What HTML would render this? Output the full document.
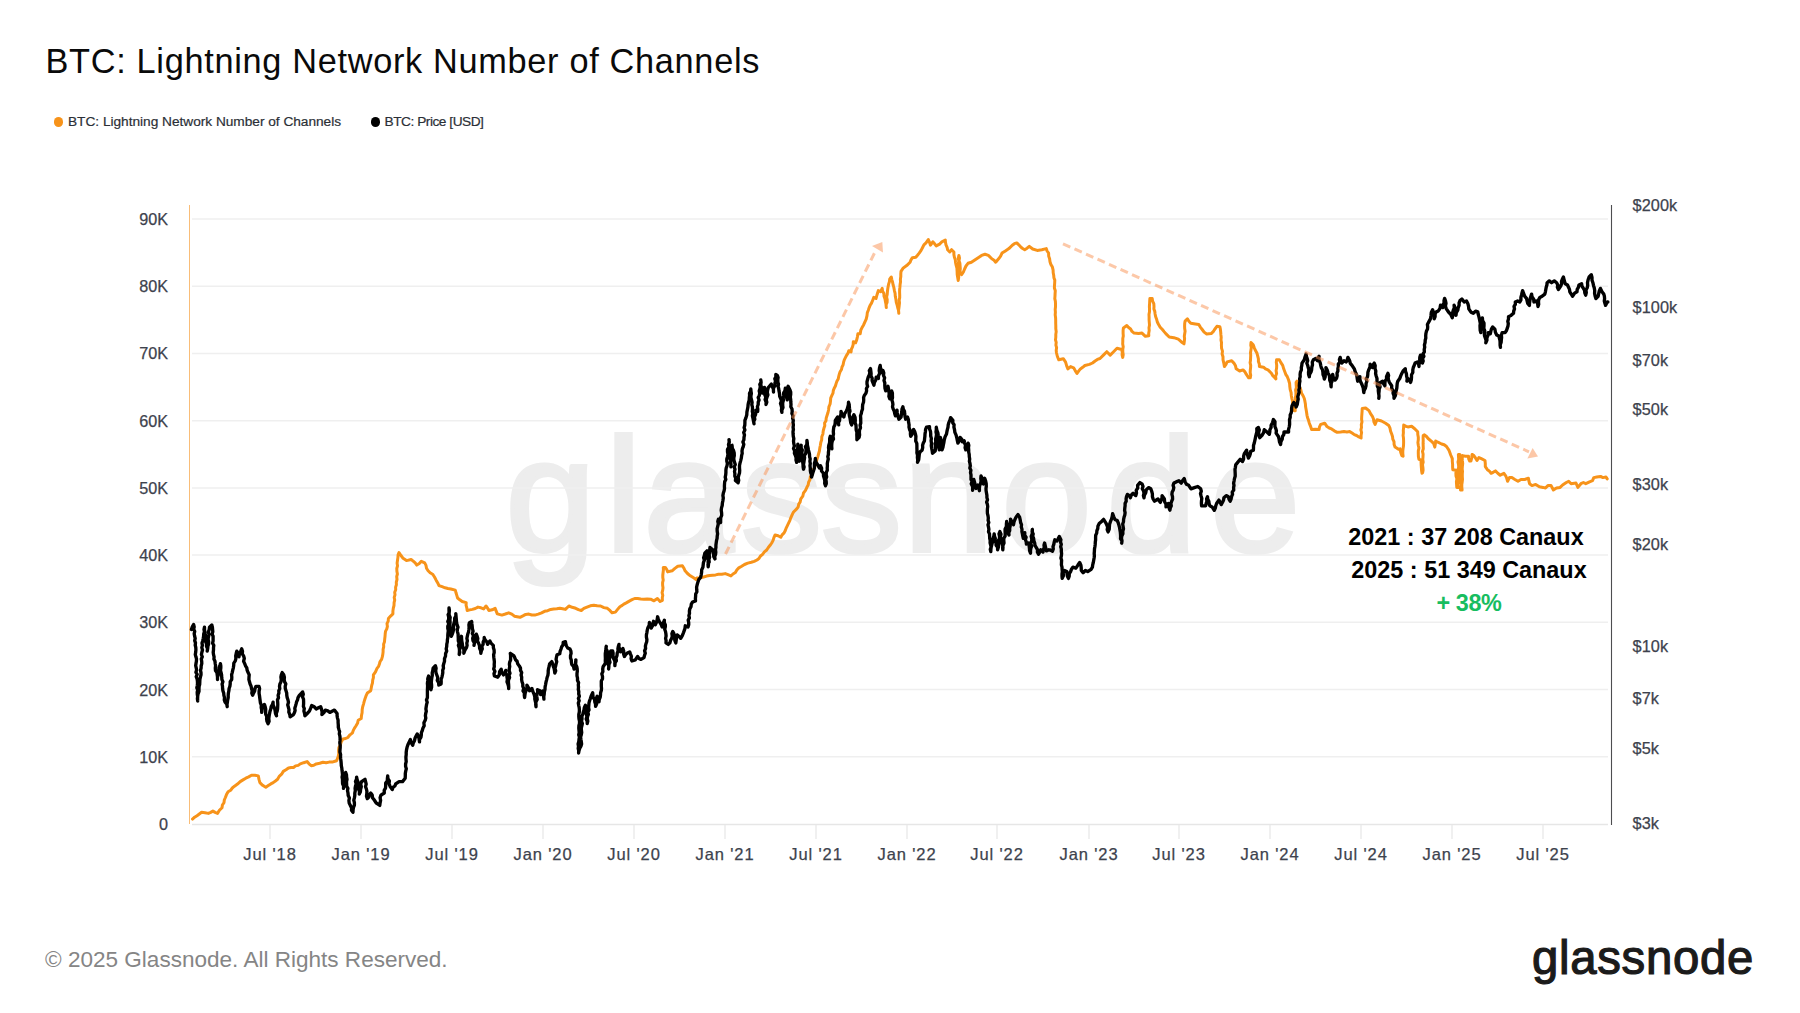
<!DOCTYPE html>
<html lang="en"><head><meta charset="utf-8"><title>BTC: Lightning Network Number of Channels</title>
<style>
html,body{margin:0;padding:0;background:#fff;}
body{width:1800px;height:1013px;position:relative;overflow:hidden;font-family:"Liberation Sans",sans-serif;}
.abs{position:absolute;white-space:nowrap;line-height:1;}
.chart{position:absolute;left:0;top:0;}
.title{left:45.5px;top:44px;font-size:34.3px;letter-spacing:0.69px;color:#0a0a0a;}
.leg{font-size:13.7px;color:#2b2f36;top:114.5px;-webkit-text-stroke:0.2px #2b2f36;}
.dot{position:absolute;width:9.6px;height:9.6px;border-radius:50%;top:117px;}
.yl{font-size:16.2px;-webkit-text-stroke:0.25px #3d424d;color:#3d424d;text-align:right;width:60px;left:108px;}
.yr{font-size:16.3px;letter-spacing:0.1px;-webkit-text-stroke:0.25px #3d424d;color:#3d424d;left:1632.5px;}
.xl{font-size:16.5px;letter-spacing:0.9px;-webkit-text-stroke:0.25px #3d424d;color:#3d424d;width:100px;text-align:center;top:846px;}
.ann{font-weight:bold;font-size:23.4px;color:#000;text-align:center;width:300px;}
.foot{left:45px;top:949px;font-size:22.55px;color:#858585;}
.logo{font-size:47.3px;letter-spacing:0.7px;color:#1b1b1b;left:1532px;top:934px;-webkit-text-stroke:1.2px #1b1b1b;}
.wm{font-family:"Liberation Sans",sans-serif;font-size:162px;fill:#ededed;stroke:#ededed;stroke-width:4px;}
</style></head><body>

<svg class="chart" width="1800" height="1013" viewBox="0 0 1800 1013">
<text class="wm" x="505.5 605.5 643.5 741.0 821.0 903.5 1001.5 1106.5 1210.0" y="550.5">glassnode</text>
<line x1="192" x2="1608" y1="219.0" y2="219.0" stroke="#efefef" stroke-width="1.5"/>
<line x1="192" x2="1608" y1="286.2" y2="286.2" stroke="#efefef" stroke-width="1.5"/>
<line x1="192" x2="1608" y1="353.4" y2="353.4" stroke="#efefef" stroke-width="1.5"/>
<line x1="192" x2="1608" y1="420.7" y2="420.7" stroke="#efefef" stroke-width="1.5"/>
<line x1="192" x2="1608" y1="487.9" y2="487.9" stroke="#efefef" stroke-width="1.5"/>
<line x1="192" x2="1608" y1="555.1" y2="555.1" stroke="#efefef" stroke-width="1.5"/>
<line x1="192" x2="1608" y1="622.3" y2="622.3" stroke="#efefef" stroke-width="1.5"/>
<line x1="192" x2="1608" y1="689.6" y2="689.6" stroke="#efefef" stroke-width="1.5"/>
<line x1="192" x2="1608" y1="756.8" y2="756.8" stroke="#efefef" stroke-width="1.5"/>
<line x1="192" x2="1608" y1="824.5" y2="824.5" stroke="#e6e6e6" stroke-width="1.5"/>
<line x1="270" x2="270" y1="825" y2="839" stroke="#e8e8e8" stroke-width="1.3"/>
<line x1="361" x2="361" y1="825" y2="839" stroke="#e8e8e8" stroke-width="1.3"/>
<line x1="452" x2="452" y1="825" y2="839" stroke="#e8e8e8" stroke-width="1.3"/>
<line x1="543" x2="543" y1="825" y2="839" stroke="#e8e8e8" stroke-width="1.3"/>
<line x1="634" x2="634" y1="825" y2="839" stroke="#e8e8e8" stroke-width="1.3"/>
<line x1="725" x2="725" y1="825" y2="839" stroke="#e8e8e8" stroke-width="1.3"/>
<line x1="816" x2="816" y1="825" y2="839" stroke="#e8e8e8" stroke-width="1.3"/>
<line x1="907" x2="907" y1="825" y2="839" stroke="#e8e8e8" stroke-width="1.3"/>
<line x1="997" x2="997" y1="825" y2="839" stroke="#e8e8e8" stroke-width="1.3"/>
<line x1="1089" x2="1089" y1="825" y2="839" stroke="#e8e8e8" stroke-width="1.3"/>
<line x1="1179" x2="1179" y1="825" y2="839" stroke="#e8e8e8" stroke-width="1.3"/>
<line x1="1270" x2="1270" y1="825" y2="839" stroke="#e8e8e8" stroke-width="1.3"/>
<line x1="1361" x2="1361" y1="825" y2="839" stroke="#e8e8e8" stroke-width="1.3"/>
<line x1="1452" x2="1452" y1="825" y2="839" stroke="#e8e8e8" stroke-width="1.3"/>
<line x1="1543" x2="1543" y1="825" y2="839" stroke="#e8e8e8" stroke-width="1.3"/>
<line x1="189.5" x2="189.5" y1="205" y2="824" stroke="#f9bd78" stroke-width="1"/>
<line x1="1611.5" x2="1611.5" y1="205" y2="825" stroke="#4d4d50" stroke-width="1.1"/>
<path d="M192.5,819.1 L194.6,817.2 L197.0,815.7 L199.3,814.0 L201.6,812.3 L205.0,812.7 L208.4,813.4 L210.7,812.4 L212.9,811.1 L215.1,812.4 L217.5,813.4 L219.4,810.3 L222.0,807.7 L222.4,805.0 L224.0,802.7 L224.3,800.0 L225.4,797.5 L226.5,794.6 L228.1,791.8 L230.6,790.3 L232.3,788.0 L234.5,786.2 L237.5,784.1 L240.2,781.6 L243.0,779.9 L245.8,778.2 L248.7,776.9 L251.5,775.3 L254.9,775.2 L258.3,775.9 L259.0,779.4 L259.9,782.7 L262.6,785.3 L265.8,787.3 L268.3,785.6 L270.8,783.9 L273.2,782.6 L275.4,781.0 L277.6,779.3 L279.2,776.4 L281.6,774.2 L283.3,771.4 L286.0,769.8 L288.5,768.0 L291.0,767.6 L293.5,767.5 L295.6,765.9 L298.2,765.4 L300.3,763.9 L303.7,762.7 L307.1,761.6 L309.0,763.8 L311.2,765.7 L313.8,765.2 L316.2,763.9 L319.7,763.3 L323.0,762.3 L326.1,762.7 L329.1,762.1 L332.1,762.1 L336.6,760.7 L338.2,756.6 L338.8,753.6 L338.6,750.6 L338.9,747.6 L340.4,744.9 L341.2,741.9 L343.0,738.9 L345.6,738.5 L348.0,737.3 L350.0,734.8 L352.5,732.8 L353.3,730.4 L354.5,728.1 L355.9,726.0 L357.5,723.3 L358.2,720.3 L361.2,718.5 L361.5,715.5 L362.1,712.6 L362.2,709.6 L362.7,706.7 L363.5,704.1 L364.2,701.4 L365.0,698.8 L366.0,695.9 L367.3,693.1 L370.7,690.8 L371.2,688.2 L371.7,685.5 L372.5,682.9 L372.7,680.2 L373.4,677.6 L373.4,674.9 L375.5,671.8 L377.0,668.4 L378.6,666.4 L379.4,664.0 L380.1,661.5 L381.6,659.3 L382.3,656.9 L382.8,654.4 L383.1,651.8 L383.1,649.3 L383.7,646.8 L383.6,644.2 L384.5,641.7 L384.7,639.2 L385.0,636.6 L385.2,634.0 L385.5,631.4 L386.8,628.9 L387.4,626.4 L387.0,623.6 L388.2,621.1 L388.4,618.5 L390.6,616.1 L392.9,613.9 L392.9,611.1 L393.3,608.2 L394.0,605.5 L394.1,602.6 L394.7,600.1 L394.2,597.4 L395.0,594.9 L394.7,592.3 L395.7,589.8 L395.6,587.2 L396.4,584.8 L396.3,582.2 L397.0,579.5 L396.7,576.7 L397.4,574.0 L396.9,571.2 L396.8,568.5 L397.5,565.8 L397.1,563.1 L397.5,560.3 L397.9,557.6 L398.1,554.9 L399.0,552.6 L401.0,555.5 L403.1,558.3 L406.5,560.6 L411.1,559.5 L413.2,561.1 L415.2,562.9 L416.8,565.1 L419.3,563.5 L421.3,561.3 L424.7,562.9 L426.0,565.4 L426.5,568.3 L428.1,570.8 L430.1,572.8 L432.6,574.2 L434.5,577.0 L436.0,579.9 L437.6,582.7 L439.0,585.6 L442.1,586.7 L445.1,587.8 L447.9,588.5 L450.8,589.0 L455.3,590.1 L456.0,592.8 L456.8,595.4 L457.6,598.0 L459.8,599.8 L462.2,601.5 L466.2,602.6 L466.1,605.3 L466.8,607.9 L467.2,610.5 L469.7,609.9 L472.4,609.4 L475.3,608.5 L478.0,607.1 L481.0,607.8 L483.7,608.9 L486.0,606.0 L487.6,608.2 L488.9,610.5 L492.2,609.8 L495.1,608.3 L496.2,611.1 L497.3,613.9 L501.9,615.1 L505.3,614.0 L508.7,612.8 L511.8,614.1 L514.4,616.2 L517.2,616.7 L520.0,617.3 L522.9,615.9 L525.7,614.4 L528.8,614.1 L531.8,615.0 L534.8,615.1 L538.2,614.1 L541.6,612.8 L544.5,611.3 L547.7,610.7 L550.7,609.4 L553.7,609.0 L556.8,608.8 L559.8,608.3 L562.6,608.7 L565.4,609.4 L568.9,606.0 L572.2,607.3 L575.7,608.3 L578.4,609.6 L581.3,610.5 L583.9,608.4 L587.0,607.1 L590.3,605.8 L593.8,605.3 L597.2,605.8 L600.6,606.0 L603.9,607.6 L607.4,608.3 L609.9,610.4 L612.0,612.8 L615.4,612.1 L617.6,609.4 L619.9,606.7 L622.2,605.4 L624.4,603.8 L626.7,602.6 L629.3,601.1 L632.0,599.7 L634.7,598.5 L637.7,598.6 L640.7,599.1 L643.8,599.2 L647.2,599.0 L650.6,599.2 L654.0,600.8 L657.4,598.5 L660.1,601.5 L662.4,600.3 L662.3,597.8 L662.8,595.3 L662.1,592.7 L662.7,590.2 L663.0,587.7 L662.6,585.1 L662.6,582.6 L663.2,580.1 L662.8,577.5 L662.8,575.0 L663.1,572.5 L663.4,569.9 L663.3,567.4 L665.3,567.4 L666.8,569.5 L667.6,571.9 L672.1,570.8 L674.9,568.4 L677.8,566.3 L682.4,565.8 L683.9,568.2 L685.1,570.8 L687.5,573.5 L690.3,575.8 L693.2,577.6 L696.0,579.4 L696.8,578.1 L700.3,577.9 L703.6,577.0 L706.6,576.1 L709.6,575.6 L712.7,575.2 L715.6,574.9 L718.4,574.3 L721.8,574.3 L725.2,573.6 L728.0,574.7 L730.9,575.9 L733.0,574.0 L735.4,572.5 L736.8,570.0 L738.8,567.9 L741.7,566.3 L744.5,564.5 L747.8,563.1 L751.3,562.3 L754.2,561.4 L757.0,560.0 L759.1,558.3 L760.5,556.0 L762.6,554.3 L764.4,551.9 L766.7,550.0 L768.3,547.5 L770.1,545.3 L771.7,543.0 L773.1,540.4 L773.9,537.6 L775.1,535.0 L778.1,535.8 L780.8,537.3 L782.1,534.9 L784.1,532.9 L785.3,530.5 L786.3,527.8 L787.5,525.3 L788.7,522.8 L789.9,520.3 L790.9,517.6 L792.1,514.9 L793.3,512.3 L796.7,508.9 L798.2,506.8 L798.7,504.2 L800.1,502.1 L800.8,498.9 L802.8,496.2 L803.5,493.0 L805.5,490.4 L806.9,487.3 L808.2,484.9 L808.6,482.2 L809.9,479.8 L810.3,477.1 L811.8,474.6 L812.3,471.7 L813.7,469.2 L814.9,466.2 L816.0,463.2 L816.7,460.1 L817.7,457.1 L818.5,454.1 L819.4,451.0 L819.8,448.1 L820.4,445.3 L820.8,442.5 L821.7,439.7 L821.8,436.7 L822.9,434.0 L823.2,431.1 L823.9,428.3 L824.8,425.8 L824.6,423.1 L826.0,420.7 L826.2,418.1 L827.1,415.3 L828.0,412.5 L828.6,409.7 L828.9,406.8 L830.1,404.0 L830.5,401.1 L830.7,398.1 L831.9,395.4 L833.0,393.1 L833.3,390.6 L834.2,388.2 L835.4,386.0 L836.1,383.6 L836.9,381.2 L838.2,379.0 L838.7,376.5 L839.3,374.1 L840.1,371.7 L841.5,369.5 L842.0,367.0 L843.1,364.8 L843.6,362.2 L844.3,359.8 L845.4,357.6 L846.6,355.3 L848.0,353.2 L848.8,350.7 L851.1,351.9 L851.3,349.3 L852.5,346.8 L853.2,344.3 L853.3,341.7 L855.6,342.8 L856.7,339.9 L857.4,336.8 L857.9,333.7 L860.2,333.7 L860.8,330.2 L862.4,326.9 L863.7,324.7 L864.7,322.4 L866.2,319.1 L867.0,315.6 L867.3,312.8 L868.3,310.2 L869.2,307.6 L870.2,305.2 L871.5,303.1 L872.7,300.2 L873.8,297.4 L876.0,298.5 L876.7,295.9 L877.5,293.2 L878.3,290.6 L880.6,291.7 L882.2,288.3 L882.5,291.0 L883.9,293.5 L884.0,296.3 L885.0,299.0 L885.5,301.9 L886.1,304.7 L886.3,307.6 L886.0,304.9 L887.1,302.4 L887.2,299.7 L886.6,297.0 L887.2,294.4 L887.4,291.7 L887.7,289.2 L888.1,286.7 L888.6,284.2 L889.4,281.8 L889.7,279.2 L891.3,277.0 L891.8,279.6 L892.6,282.2 L893.1,284.9 L893.9,287.7 L894.4,290.6 L895.1,293.4 L895.3,296.3 L895.9,299.3 L896.3,302.4 L897.2,305.3 L897.8,308.0 L898.6,310.6 L898.8,313.3 L898.5,310.7 L898.9,308.1 L899.2,305.5 L899.5,302.9 L899.2,300.2 L899.7,297.6 L899.7,295.0 L899.6,292.4 L899.6,289.8 L899.9,287.2 L900.1,284.5 L900.5,281.9 L900.4,279.2 L900.8,276.6 L900.8,273.9 L901.0,271.3 L903.3,267.9 L906.7,265.6 L910.1,262.2 L911.0,259.8 L912.4,257.7 L915.8,257.2 L917.5,255.2 L919.2,253.1 L921.1,250.4 L922.6,247.5 L923.9,244.9 L926.0,242.9 L928.3,239.5 L929.5,242.3 L930.5,245.2 L932.8,241.8 L934.6,243.8 L936.2,245.9 L939.6,244.1 L941.9,241.8 L945.3,240.0 L945.5,242.5 L946.0,244.9 L947.1,247.3 L947.6,249.7 L949.8,252.0 L951.6,249.7 L953.9,252.0 L953.9,254.6 L954.4,257.2 L955.3,259.6 L955.5,262.2 L956.1,265.2 L956.9,268.2 L957.1,271.3 L957.2,274.4 L957.7,277.4 L958.2,280.4 L958.7,277.6 L958.7,274.8 L958.6,272.1 L958.8,269.3 L958.7,266.5 L958.3,263.7 L958.8,261.0 L958.3,258.2 L958.9,255.4 L959.5,258.0 L959.0,260.7 L959.9,263.3 L960.1,266.0 L960.3,268.6 L960.0,271.3 L961.6,274.7 L963.4,272.0 L964.6,269.0 L966.0,266.0 L968.0,263.3 L971.4,262.2 L974.8,259.9 L978.2,257.7 L981.6,255.4 L985.0,254.3 L988.4,255.4 L991.8,258.8 L994.1,260.2 L995.7,262.2 L998.6,258.8 L1000.6,256.1 L1002.0,253.1 L1005.4,250.9 L1008.9,248.6 L1012.3,245.2 L1014.4,243.7 L1016.8,242.9 L1020.2,246.3 L1022.3,248.3 L1024.7,249.7 L1027.1,248.2 L1029.3,246.3 L1032.7,249.0 L1037.2,250.4 L1041.8,249.7 L1046.3,248.6 L1047.1,251.0 L1048.6,253.1 L1048.7,256.1 L1049.6,258.8 L1050.0,261.7 L1050.9,264.5 L1052.4,267.1 L1053.1,270.2 L1053.2,272.7 L1053.7,275.2 L1053.9,277.7 L1054.8,280.1 L1054.7,282.6 L1054.5,285.3 L1054.4,288.0 L1055.3,290.7 L1055.1,293.4 L1055.0,296.1 L1054.8,298.7 L1055.4,301.4 L1055.5,304.1 L1055.5,306.8 L1055.2,309.5 L1055.4,312.2 L1055.2,314.9 L1055.6,317.7 L1055.7,320.5 L1055.7,323.3 L1055.8,326.0 L1055.8,328.8 L1056.2,331.6 L1055.8,334.4 L1055.8,337.1 L1055.5,339.8 L1056.2,342.4 L1055.9,345.1 L1056.6,347.7 L1056.2,350.4 L1056.5,353.0 L1057.4,356.5 L1058.8,359.8 L1063.3,358.7 L1065.6,362.1 L1066.6,365.6 L1067.9,368.9 L1070.6,366.6 L1073.6,367.8 L1075.2,370.6 L1077.0,373.5 L1078.6,371.2 L1080.4,368.9 L1082.7,367.3 L1084.9,365.5 L1089.4,364.4 L1092.5,363.0 L1095.1,361.0 L1097.4,359.4 L1100.0,358.5 L1103.4,355.1 L1106.8,351.7 L1110.2,355.1 L1113.6,351.7 L1117.0,348.3 L1121.6,349.5 L1122.3,352.0 L1122.1,354.8 L1122.7,357.4 L1123.2,354.7 L1122.8,352.0 L1122.8,349.4 L1123.2,346.7 L1122.7,344.0 L1122.8,341.3 L1122.8,338.6 L1123.3,335.9 L1123.1,333.3 L1123.1,330.6 L1123.4,327.9 L1126.8,325.6 L1128.6,327.5 L1130.6,329.0 L1132.0,331.4 L1134.1,333.1 L1138.6,333.6 L1142.0,333.1 L1145.4,336.3 L1148.8,335.8 L1148.7,333.2 L1149.2,330.5 L1149.0,327.8 L1149.5,325.1 L1149.3,322.5 L1149.1,319.8 L1149.1,317.1 L1149.0,314.4 L1149.5,311.8 L1149.5,309.1 L1149.4,306.4 L1149.6,303.7 L1149.7,301.0 L1149.9,298.4 L1152.2,298.4 L1152.6,301.1 L1153.8,303.6 L1154.0,306.3 L1153.9,309.0 L1154.8,311.4 L1155.1,314.0 L1155.6,316.5 L1156.6,319.2 L1157.3,322.0 L1158.6,324.5 L1160.2,327.2 L1162.4,329.5 L1164.1,331.6 L1165.8,333.6 L1169.2,337.0 L1173.8,337.7 L1178.3,339.2 L1180.3,340.9 L1182.2,342.6 L1184.0,343.8 L1184.3,341.3 L1184.6,338.8 L1184.3,336.2 L1184.7,333.7 L1185.1,331.2 L1184.7,328.6 L1184.6,326.1 L1184.7,323.6 L1185.1,321.1 L1187.4,318.8 L1188.9,321.2 L1190.8,323.3 L1195.3,324.0 L1198.8,324.5 L1200.3,327.1 L1202.2,329.5 L1204.1,332.1 L1206.7,334.0 L1211.2,333.6 L1213.2,331.7 L1214.6,329.5 L1216.9,326.3 L1219.9,326.8 L1220.4,329.4 L1220.7,332.0 L1220.9,334.7 L1221.2,337.3 L1221.0,340.0 L1221.5,342.6 L1221.4,345.5 L1221.6,348.4 L1222.5,351.1 L1222.1,354.0 L1223.0,356.8 L1223.0,359.7 L1223.8,363.1 L1224.4,366.5 L1226.0,364.3 L1227.1,361.9 L1231.7,360.8 L1233.9,363.1 L1235.5,365.8 L1236.2,368.8 L1239.6,371.0 L1243.0,369.9 L1245.0,371.9 L1246.4,374.4 L1248.7,377.8 L1250.3,377.8 L1250.7,375.3 L1250.2,372.8 L1250.3,370.3 L1250.6,367.8 L1250.7,365.3 L1250.1,362.7 L1250.5,360.2 L1250.6,357.7 L1250.7,355.2 L1250.5,352.7 L1250.9,350.2 L1251.3,347.7 L1250.8,345.2 L1251.0,342.6 L1253.2,344.9 L1254.3,347.8 L1255.5,350.6 L1257.0,353.3 L1257.8,356.3 L1258.4,358.8 L1258.4,361.4 L1259.3,363.9 L1259.4,366.5 L1263.5,367.2 L1265.5,368.9 L1268.0,369.9 L1271.4,373.3 L1272.8,375.8 L1274.8,377.8 L1275.9,379.0 L1275.6,376.2 L1276.6,373.5 L1276.1,370.7 L1276.6,368.0 L1276.7,365.2 L1276.3,362.4 L1276.6,359.7 L1279.3,359.7 L1280.9,362.6 L1282.7,365.3 L1283.7,368.8 L1285.0,372.2 L1285.9,374.6 L1287.3,376.7 L1288.6,380.0 L1289.6,383.5 L1289.8,386.6 L1290.2,389.6 L1291.1,392.6 L1291.3,395.4 L1291.8,398.3 L1292.6,401.1 L1292.5,403.9 L1293.3,407.3 L1294.1,410.7 L1295.2,410.7 L1295.2,408.2 L1295.6,405.6 L1295.7,403.0 L1295.6,400.4 L1295.3,397.8 L1295.9,395.3 L1295.9,392.7 L1295.6,390.1 L1296.4,387.5 L1296.2,385.0 L1296.1,382.4 L1297.0,381.2 L1298.6,385.8 L1300.1,387.9 L1300.9,390.3 L1301.6,393.3 L1303.2,396.0 L1304.3,398.5 L1304.9,401.2 L1305.4,403.9 L1305.6,406.8 L1306.1,409.6 L1306.6,412.5 L1307.0,415.3 L1307.7,418.0 L1308.6,420.6 L1309.3,423.2 L1310.6,426.4 L1311.6,429.6 L1315.3,429.3 L1319.1,429.6 L1319.5,426.9 L1320.7,424.4 L1324.7,423.2 L1327.0,426.6 L1329.2,428.0 L1331.6,428.9 L1334.3,430.8 L1337.2,432.3 L1340.6,432.0 L1344.0,431.6 L1346.9,431.9 L1349.7,431.6 L1352.1,433.0 L1354.3,434.6 L1356.6,435.5 L1358.8,436.9 L1361.1,438.0 L1361.1,435.3 L1361.6,432.6 L1360.9,429.9 L1361.5,427.3 L1361.3,424.6 L1362.0,421.9 L1361.6,419.2 L1361.7,416.5 L1361.9,413.8 L1362.1,411.2 L1362.2,408.5 L1365.6,408.0 L1369.0,410.7 L1370.5,413.7 L1372.4,416.4 L1373.5,419.0 L1373.9,421.8 L1375.1,424.4 L1377.0,419.8 L1381.5,421.0 L1385.6,423.2 L1388.8,425.5 L1390.0,428.2 L1390.6,431.2 L1391.6,433.8 L1392.5,436.4 L1392.8,439.1 L1394.0,441.7 L1394.1,444.5 L1395.1,447.1 L1398.5,449.3 L1400.0,448.9 L1400.7,452.3 L1401.8,455.6 L1403.1,456.2 L1402.8,453.6 L1402.8,451.0 L1403.1,448.4 L1403.5,445.8 L1403.6,443.3 L1403.6,440.7 L1403.5,438.1 L1403.1,435.4 L1403.4,432.9 L1403.3,430.3 L1403.6,427.7 L1403.7,425.1 L1406.1,426.3 L1407.9,426.9 L1411.6,426.3 L1414.7,428.7 L1417.7,431.8 L1417.8,434.5 L1418.3,437.2 L1418.3,439.8 L1417.9,442.6 L1418.3,445.2 L1418.9,448.0 L1418.3,450.9 L1418.3,453.7 L1418.4,456.5 L1418.9,459.3 L1420.8,459.9 L1421.1,462.6 L1421.2,465.3 L1421.4,468.0 L1421.6,470.7 L1422.0,473.3 L1422.6,472.7 L1423.1,470.1 L1422.9,467.4 L1422.5,464.7 L1423.2,462.1 L1422.8,459.4 L1423.0,456.8 L1423.1,454.1 L1422.5,451.4 L1423.3,448.8 L1423.2,446.1 L1423.1,443.4 L1423.2,440.8 L1423.1,438.1 L1423.2,435.5 L1424.4,434.8 L1426.5,436.5 L1428.1,438.5 L1431.8,441.6 L1433.6,443.4 L1434.8,447.1 L1435.3,444.0 L1435.7,441.0 L1437.9,442.2 L1441.6,444.0 L1444.2,444.8 L1446.5,446.5 L1448.9,450.1 L1449.8,452.6 L1450.7,455.0 L1452.3,458.7 L1452.3,461.4 L1452.6,464.2 L1452.6,466.9 L1452.8,469.7 L1456.2,470.3 L1455.9,473.2 L1456.0,476.0 L1456.9,478.8 L1456.4,481.7 L1456.6,484.6 L1456.8,487.4 L1458.1,487.4 L1457.6,484.9 L1458.0,482.3 L1457.9,479.8 L1457.8,477.2 L1458.2,474.7 L1458.7,472.2 L1458.1,469.6 L1458.7,467.1 L1458.5,464.6 L1458.0,462.0 L1458.7,459.5 L1458.5,456.9 L1458.4,454.4 L1459.9,454.4 L1459.5,456.9 L1459.8,459.5 L1459.8,462.0 L1460.2,464.5 L1459.8,467.1 L1459.7,469.6 L1459.8,472.1 L1460.3,474.7 L1460.0,477.2 L1460.4,479.7 L1460.8,482.2 L1460.9,484.8 L1460.9,487.3 L1460.5,489.9 L1462.1,489.9 L1461.8,487.2 L1461.8,484.6 L1462.2,482.0 L1462.5,479.3 L1462.3,476.7 L1462.3,474.1 L1462.5,471.4 L1462.2,468.8 L1462.4,466.2 L1462.7,463.5 L1462.4,460.9 L1462.2,458.3 L1462.6,455.6 L1465.4,456.2 L1468.5,456.2 L1468.7,458.8 L1469.7,461.1 L1470.9,461.1 L1471.7,457.8 L1472.1,454.4 L1473.3,455.0 L1475.2,457.5 L1477.0,460.5 L1478.9,457.5 L1481.3,458.7 L1485.0,460.5 L1485.3,463.6 L1485.3,466.6 L1487.4,469.7 L1489.2,470.9 L1491.1,473.3 L1493.5,472.1 L1495.4,470.9 L1497.8,473.3 L1500.2,475.2 L1503.9,473.3 L1505.7,475.8 L1506.8,478.5 L1507.6,481.3 L1509.4,477.6 L1511.9,477.6 L1514.9,479.5 L1518.0,481.3 L1521.0,479.5 L1524.7,479.5 L1528.4,478.2 L1528.9,481.0 L1529.6,483.7 L1532.0,485.6 L1535.7,484.4 L1539.4,486.8 L1543.0,487.4 L1545.5,488.0 L1547.9,485.6 L1551.0,485.6 L1553.4,489.9 L1556.5,488.0 L1560.1,487.4 L1562.6,485.0 L1566.3,482.5 L1568.7,481.3 L1571.1,483.7 L1576.0,483.1 L1577.9,487.4 L1580.9,483.7 L1583.4,482.5 L1585.8,483.7 L1589.5,481.9 L1592.5,480.7 L1593.8,477.6 L1596.8,477.0 L1600.5,476.4 L1602.9,477.6 L1606.0,477.0 L1607.2,478.9" fill="none" stroke="#f7931a" stroke-width="3" stroke-linejoin="round" stroke-linecap="round"/>
<path d="M191.4,629.5 L192.3,626.9 L193.6,624.5 L194.2,626.8 L193.7,629.1 L194.7,631.4 L194.2,633.7 L194.6,636.0 L195.2,638.3 L194.7,640.6 L195.5,642.9 L195.2,645.2 L195.8,647.5 L195.9,649.8 L195.7,652.1 L195.3,654.5 L195.9,656.8 L196.5,658.9 L196.4,661.2 L196.0,663.4 L195.7,665.6 L196.2,667.8 L196.6,670.0 L195.9,672.3 L197.2,674.4 L196.2,676.7 L197.1,678.9 L197.4,681.1 L197.5,683.3 L197.3,685.5 L196.8,687.8 L197.7,689.9 L197.2,692.2 L197.3,694.4 L197.7,696.6 L197.6,698.8 L197.7,701.0 L197.4,698.6 L197.7,696.2 L198.1,693.8 L199.0,691.5 L199.0,689.1 L199.1,686.7 L199.7,684.3 L199.8,681.9 L199.9,679.5 L200.4,677.2 L201.0,674.9 L201.0,672.7 L200.5,670.4 L201.1,668.1 L201.2,665.8 L201.8,663.6 L201.7,661.3 L201.3,659.0 L202.3,656.8 L201.4,654.5 L201.9,652.2 L202.5,650.0 L201.8,647.6 L202.4,645.4 L202.0,643.1 L202.7,640.9 L203.2,638.6 L203.6,636.4 L203.7,634.1 L204.4,631.8 L204.0,629.5 L204.5,627.2 L204.5,629.7 L204.9,632.0 L205.2,634.4 L205.7,636.8 L205.4,639.2 L205.6,641.6 L206.5,643.9 L206.5,646.3 L207.5,648.6 L207.2,651.1 L207.7,648.7 L207.9,646.3 L208.6,644.0 L208.6,641.6 L208.1,639.1 L208.5,636.8 L209.0,634.4 L208.4,632.0 L209.2,629.6 L209.5,627.2 L211.8,625.0 L212.4,627.2 L212.6,629.5 L212.8,631.7 L212.1,634.1 L213.1,636.3 L213.1,638.6 L213.1,640.9 L212.6,643.2 L213.8,645.4 L213.5,647.7 L213.5,649.9 L213.2,652.2 L213.5,654.5 L214.1,656.8 L213.9,659.1 L215.0,661.3 L215.2,663.5 L215.6,665.8 L215.3,668.2 L215.5,670.5 L216.9,672.6 L217.2,674.9 L217.5,677.1 L217.5,679.5 L217.5,677.1 L218.3,674.9 L218.8,672.7 L218.8,670.3 L218.9,668.0 L219.9,665.8 L220.4,663.6 L220.8,665.8 L220.8,668.1 L220.5,670.4 L221.1,672.7 L221.6,674.9 L221.7,677.2 L221.9,679.5 L222.9,681.7 L222.1,684.1 L222.5,686.3 L222.6,688.6 L222.9,690.8 L223.7,693.1 L223.9,695.3 L224.5,697.6 L224.3,699.9 L225.1,702.2 L226.8,704.2 L227.2,706.7 L227.0,704.4 L227.4,702.1 L227.7,699.8 L228.2,697.6 L228.2,695.3 L228.4,693.0 L228.9,690.7 L229.1,688.5 L229.9,686.3 L230.2,684.0 L230.2,681.6 L231.7,679.5 L231.8,677.2 L231.6,674.8 L232.2,672.6 L232.7,670.3 L233.3,668.1 L233.7,665.6 L233.8,663.1 L235.3,660.9 L235.9,658.5 L235.7,655.9 L236.2,653.5 L236.8,651.1 L238.4,653.7 L239.0,656.8 L239.4,653.9 L240.6,651.4 L241.7,648.8 L242.5,651.2 L242.3,653.8 L243.7,656.1 L244.3,658.5 L243.6,661.2 L244.7,663.6 L245.5,665.8 L246.8,667.9 L247.2,670.4 L248.1,672.6 L249.2,674.8 L249.0,677.2 L248.9,679.6 L249.5,681.8 L250.1,684.0 L251.1,686.2 L251.5,688.5 L252.2,690.7 L251.8,693.1 L252.6,695.3 L253.5,693.1 L254.7,690.9 L255.0,688.5 L256.0,686.3 L259.0,686.3 L259.6,688.6 L259.1,691.1 L259.1,693.5 L259.5,695.8 L259.8,698.2 L260.1,700.5 L260.4,702.9 L261.3,705.2 L261.2,707.6 L261.7,710.0 L261.7,712.4 L262.1,709.5 L263.0,706.9 L264.4,704.4 L265.2,706.8 L265.7,709.2 L265.6,711.7 L265.7,714.2 L266.8,716.5 L266.6,719.0 L267.0,721.4 L268.1,723.7 L269.1,721.4 L268.8,718.8 L269.1,716.3 L269.5,713.8 L270.0,711.4 L270.8,709.0 L271.2,706.6 L272.5,704.5 L273.1,702.2 L273.1,704.6 L273.8,706.8 L274.8,709.0 L275.2,711.3 L275.5,713.6 L276.5,715.8 L276.2,713.5 L277.1,711.3 L277.6,709.0 L277.7,706.7 L277.8,704.5 L277.7,702.2 L277.5,699.8 L278.5,697.7 L278.1,695.3 L278.9,693.1 L278.8,690.8 L279.8,688.6 L279.5,686.2 L279.9,684.0 L281.0,681.8 L281.2,679.5 L280.9,677.1 L281.3,674.8 L282.2,672.6 L283.7,674.7 L284.4,677.2 L284.2,679.5 L284.6,681.8 L285.8,683.9 L285.2,686.3 L285.3,688.6 L286.0,690.8 L286.7,693.1 L286.8,695.4 L287.2,697.6 L288.0,700.0 L288.5,702.3 L287.7,704.9 L288.4,707.3 L289.0,709.7 L288.8,712.2 L289.8,714.5 L290.1,716.9 L293.5,714.6 L294.5,712.6 L295.1,710.5 L294.8,708.2 L295.5,706.0 L296.1,703.9 L296.6,701.8 L297.6,699.8 L298.0,697.6 L299.3,695.5 L301.0,693.8 L302.6,691.9 L303.3,694.3 L302.5,696.8 L303.5,699.1 L303.6,701.5 L303.6,703.9 L303.4,706.3 L304.3,708.6 L303.9,711.1 L304.6,713.4 L304.9,715.8 L307.2,713.5 L309.4,711.2 L310.6,708.4 L311.7,705.6 L314.3,706.8 L316.2,709.0 L318.4,707.8 L320.7,706.7 L321.5,709.3 L322.1,711.9 L321.9,714.6 L323.9,712.6 L325.3,710.1 L327.8,710.9 L329.8,712.4 L332.1,711.2 L334.4,710.1 L337.1,713.5 L337.1,715.8 L337.5,718.1 L338.1,720.3 L338.1,722.6 L338.3,724.9 L338.3,727.2 L338.9,729.4 L339.6,731.6 L339.3,733.9 L339.9,736.2 L340.1,738.5 L340.0,740.7 L339.8,743.0 L340.2,745.3 L340.2,747.6 L340.0,749.8 L339.9,752.1 L340.6,754.4 L340.5,756.6 L340.7,758.9 L341.0,761.2 L341.2,763.5 L341.3,765.7 L341.8,768.0 L342.0,770.3 L342.3,772.5 L342.5,774.8 L342.1,777.1 L342.5,779.4 L342.5,781.6 L342.6,783.9 L343.6,786.1 L343.5,788.4 L343.9,786.2 L344.7,784.0 L344.9,781.7 L344.3,779.3 L344.6,777.0 L345.3,774.8 L345.7,772.5 L346.5,774.7 L346.6,777.0 L347.0,779.3 L346.5,781.6 L346.6,783.9 L346.7,786.2 L347.9,788.4 L347.5,790.7 L348.0,793.0 L348.2,795.5 L349.4,797.9 L348.9,800.5 L349.2,803.1 L350.3,805.4 L351.5,807.6 L351.5,810.2 L353.0,812.3 L353.1,809.8 L353.5,807.5 L354.4,805.1 L354.4,802.7 L353.8,800.2 L354.4,797.9 L354.8,795.5 L354.8,793.1 L355.3,790.7 L355.1,788.4 L355.5,786.1 L356.2,783.9 L355.5,781.5 L356.5,779.3 L356.6,777.1 L357.1,779.5 L358.0,781.8 L358.0,784.3 L358.0,786.8 L358.5,789.2 L359.5,791.6 L359.3,794.1 L360.4,791.7 L360.6,789.2 L361.3,786.7 L360.7,784.0 L361.6,781.6 L365.0,779.3 L365.6,781.7 L366.2,784.1 L365.5,786.6 L366.4,789.0 L366.9,791.3 L366.8,793.8 L366.5,796.3 L367.3,798.6 L368.8,797.0 L369.3,794.7 L370.7,793.0 L372.2,795.0 L372.5,797.7 L374.1,799.8 L376.4,803.2 L379.8,805.4 L380.1,802.9 L380.6,800.4 L380.1,797.7 L380.9,795.2 L384.3,793.0 L384.2,790.4 L385.5,788.1 L385.7,785.6 L385.7,783.1 L387.3,780.9 L387.4,778.4 L387.7,775.9 L387.9,778.6 L389.4,780.9 L389.0,783.7 L390.0,786.2 L392.3,789.6 L392.9,787.4 L394.9,786.0 L395.7,783.9 L399.1,781.6 L402.5,781.6 L405.2,778.2 L405.3,775.8 L405.3,773.5 L405.7,771.1 L406.3,768.8 L405.6,766.4 L405.6,764.0 L406.2,761.7 L406.0,759.3 L405.9,757.0 L406.2,754.6 L406.2,752.2 L406.5,749.9 L407.0,747.6 L407.9,744.8 L409.1,742.2 L410.4,739.6 L411.2,742.6 L412.7,745.3 L413.3,742.9 L414.5,740.7 L415.0,738.3 L416.1,736.1 L417.2,733.9 L418.6,736.4 L419.1,739.1 L419.5,741.9 L419.5,739.5 L420.9,737.4 L421.3,735.1 L421.4,732.7 L422.3,730.5 L422.9,728.3 L424.2,725.8 L423.9,722.8 L425.2,720.3 L425.8,718.1 L425.4,715.8 L425.7,713.5 L426.3,711.3 L425.9,709.0 L426.2,706.7 L426.6,704.4 L427.2,702.2 L426.5,699.9 L427.4,697.6 L427.4,695.4 L427.4,693.1 L427.4,690.8 L427.5,688.3 L427.6,685.9 L427.4,683.4 L427.7,680.9 L427.8,678.5 L428.6,676.0 L428.7,678.4 L429.7,680.5 L430.1,682.8 L430.6,685.0 L430.0,687.5 L430.9,689.7 L431.6,687.3 L431.6,684.9 L431.3,682.5 L431.5,680.1 L431.8,677.7 L432.3,675.3 L432.2,672.9 L432.8,670.5 L433.1,668.1 L435.4,665.8 L436.1,668.2 L435.7,670.8 L436.1,673.2 L437.0,675.5 L437.8,677.8 L437.3,680.4 L438.6,682.7 L438.8,685.1 L441.1,684.0 L441.2,681.7 L441.1,679.4 L441.9,677.2 L442.4,674.9 L442.8,672.6 L442.7,670.3 L443.5,668.1 L443.2,665.7 L443.8,663.5 L444.5,661.3 L444.5,658.6 L445.5,656.2 L445.6,653.5 L446.7,651.1 L446.2,648.8 L446.7,646.5 L446.8,644.2 L447.3,642.0 L447.4,639.7 L447.8,637.5 L447.8,635.2 L448.0,632.9 L448.3,630.7 L447.8,628.4 L447.8,626.1 L448.8,623.9 L447.8,621.5 L448.7,619.3 L448.7,617.0 L448.1,614.7 L449.2,612.5 L449.4,610.2 L449.0,607.9 L449.0,610.3 L449.1,612.7 L449.2,615.1 L450.2,617.4 L449.9,619.8 L450.1,622.1 L449.9,624.5 L450.1,626.9 L450.3,629.3 L450.8,631.6 L450.6,634.0 L451.3,636.3 L452.3,634.1 L453.0,631.9 L453.6,629.5 L453.5,627.2 L453.6,624.9 L454.1,622.6 L454.7,620.4 L454.7,618.1 L455.9,616.0 L455.8,613.6 L456.0,615.9 L456.2,618.2 L456.4,620.4 L456.6,622.7 L457.1,625.0 L458.0,627.2 L457.2,629.6 L457.5,631.8 L458.1,634.1 L458.2,636.3 L458.3,638.6 L458.3,640.9 L459.2,643.1 L458.4,645.4 L459.2,647.7 L459.5,649.9 L459.4,652.2 L459.2,654.5 L459.8,652.3 L459.4,649.9 L460.4,647.7 L461.0,645.5 L460.6,643.1 L460.8,640.8 L461.2,638.6 L461.5,636.3 L461.6,638.8 L461.8,641.2 L462.3,643.6 L462.6,646.1 L463.7,648.4 L463.9,650.9 L463.8,653.3 L464.8,650.4 L466.5,647.7 L467.1,645.4 L466.8,643.1 L467.4,640.9 L466.9,638.5 L467.3,636.3 L467.8,634.0 L468.6,631.8 L468.9,629.5 L469.1,627.3 L468.9,624.9 L469.4,622.7 L471.7,621.6 L471.9,624.0 L472.2,626.3 L472.4,628.7 L473.1,631.1 L472.3,633.5 L473.5,635.8 L472.7,638.3 L473.0,640.7 L474.4,643.0 L474.0,645.4 L474.4,643.1 L475.3,640.9 L475.9,638.7 L475.7,636.3 L476.3,634.1 L477.1,636.2 L477.8,638.5 L477.4,641.0 L478.5,643.1 L479.5,645.6 L479.6,648.3 L480.7,650.7 L480.8,653.3 L481.3,651.1 L482.3,648.9 L481.8,646.4 L483.1,644.4 L483.2,642.0 L484.2,639.8 L484.2,637.5 L485.1,639.8 L486.8,641.8 L487.6,644.3 L489.9,640.9 L491.2,643.4 L493.3,645.4 L493.4,647.8 L494.1,650.1 L494.2,652.5 L493.6,654.8 L493.8,657.2 L494.1,659.5 L494.4,661.9 L494.2,664.3 L494.3,666.6 L493.7,669.0 L494.9,671.3 L494.0,673.7 L494.4,676.0 L497.8,677.2 L499.4,674.7 L499.6,671.7 L501.2,669.2 L501.8,672.3 L503.5,674.9 L504.9,672.8 L505.8,670.4 L505.6,672.7 L506.8,674.9 L507.0,677.2 L507.4,679.4 L507.0,681.8 L507.9,684.0 L508.5,686.2 L508.7,688.5 L508.7,686.3 L508.6,684.1 L508.4,681.9 L508.6,679.7 L509.6,677.6 L509.0,675.3 L510.0,673.2 L509.2,670.9 L509.3,668.7 L509.7,666.5 L509.4,664.3 L509.7,662.1 L510.6,660.0 L510.6,657.8 L510.6,655.6 L510.3,653.3 L513.7,655.6 L514.7,657.6 L515.5,659.7 L517.1,661.3 L517.7,663.8 L519.3,665.9 L520.5,668.1 L520.5,670.4 L521.7,672.6 L521.1,675.0 L521.7,677.2 L521.6,679.5 L522.0,681.7 L522.8,684.0 L522.8,686.3 L523.7,688.4 L523.0,690.9 L524.4,693.0 L524.3,695.3 L524.6,697.6 L524.9,695.1 L525.3,692.6 L526.3,690.2 L527.0,687.7 L526.9,685.1 L528.5,687.8 L529.6,690.8 L531.9,688.5 L532.8,691.4 L534.1,694.2 L534.8,696.7 L534.8,699.2 L535.4,701.7 L536.0,704.1 L536.0,706.7 L535.7,704.2 L536.0,701.8 L537.2,699.4 L536.9,697.0 L536.7,694.5 L537.8,692.2 L537.5,689.7 L540.0,690.8 L540.5,694.5 L542.7,691.1 L542.5,693.9 L543.6,696.4 L543.9,699.1 L543.8,696.6 L544.2,694.2 L544.4,691.8 L545.0,689.4 L545.1,686.9 L545.6,684.5 L546.0,682.1 L546.6,679.8 L547.1,677.5 L547.9,675.3 L548.2,673.0 L548.2,670.7 L548.6,668.4 L549.2,666.2 L549.6,663.9 L551.8,661.6 L552.6,663.8 L553.2,666.1 L554.1,668.3 L554.5,670.6 L554.8,673.0 L555.7,670.8 L554.9,668.4 L555.6,666.2 L556.1,663.9 L556.7,661.7 L556.1,659.3 L556.5,657.0 L557.0,654.8 L559.8,653.7 L560.1,651.3 L561.0,649.1 L561.7,646.8 L563.1,644.8 L563.2,642.3 L565.4,641.6 L565.8,643.9 L566.5,646.0 L567.7,648.0 L570.0,649.1 L570.9,651.2 L571.1,653.4 L570.5,655.7 L570.5,657.9 L571.3,660.1 L571.4,662.3 L571.8,664.4 L573.5,666.4 L574.1,669.0 L574.4,666.7 L575.5,664.5 L575.8,662.2 L575.9,659.9 L575.6,662.2 L575.7,664.5 L576.8,666.7 L577.2,668.9 L577.3,671.2 L577.0,673.5 L577.0,675.8 L577.5,678.0 L577.5,680.5 L578.6,682.6 L578.3,684.9 L578.5,687.1 L578.3,689.4 L578.8,691.7 L578.7,693.9 L579.4,696.2 L578.4,698.5 L579.2,700.7 L578.3,703.0 L578.7,705.3 L579.2,707.6 L579.4,709.8 L579.3,712.1 L578.8,714.4 L578.8,716.6 L579.0,718.9 L579.5,721.2 L579.5,723.5 L578.9,725.7 L578.8,728.0 L579.0,730.3 L579.2,732.5 L578.7,734.8 L579.4,737.1 L579.0,739.3 L578.8,741.6 L578.1,743.9 L578.5,746.1 L578.2,748.4 L578.7,750.7 L578.6,753.0 L579.0,750.6 L579.8,748.3 L580.9,746.2 L581.6,743.9 L581.3,741.6 L580.9,739.3 L580.6,737.0 L581.3,734.8 L581.7,732.5 L581.4,730.3 L581.3,728.0 L581.9,725.7 L582.4,723.5 L581.5,721.2 L582.0,718.9 L581.9,716.5 L582.7,714.3 L583.3,712.1 L584.0,709.9 L584.3,707.6 L585.4,705.3 L586.0,707.5 L585.5,709.9 L585.8,712.1 L586.3,714.4 L586.9,716.6 L586.2,719.0 L587.2,721.2 L587.2,723.5 L587.8,721.2 L587.3,718.9 L587.5,716.6 L588.4,714.4 L587.9,712.1 L589.0,709.9 L588.6,707.6 L588.8,705.3 L589.0,702.9 L589.6,700.7 L590.4,698.5 L591.1,696.2 L592.7,692.8 L592.9,695.1 L593.1,697.5 L594.6,699.5 L594.8,701.9 L595.5,704.1 L595.6,706.4 L596.6,704.0 L596.0,701.2 L596.2,698.7 L597.2,696.2 L598.7,698.9 L599.0,701.9 L599.2,699.6 L600.2,697.4 L600.5,695.1 L600.6,692.8 L601.3,690.6 L601.5,688.3 L601.3,686.0 L601.3,683.6 L601.3,681.1 L602.5,678.8 L602.5,676.4 L601.8,673.9 L602.9,671.5 L602.7,669.1 L603.1,666.7 L605.4,663.3 L605.3,660.9 L605.4,658.4 L605.3,656.0 L605.3,653.5 L605.7,651.1 L606.0,648.7 L606.3,646.3 L605.9,648.6 L607.2,650.8 L606.4,653.1 L607.6,655.3 L607.6,657.6 L607.2,659.9 L607.5,662.2 L608.2,664.4 L608.9,666.6 L608.6,669.0 L608.8,666.7 L609.0,664.4 L610.0,662.2 L609.3,659.8 L609.8,657.6 L610.8,655.4 L609.9,653.0 L610.8,650.8 L612.6,650.8 L613.1,653.2 L613.0,655.8 L613.4,658.2 L614.7,660.6 L615.1,663.0 L614.9,665.6 L614.8,663.0 L616.4,660.7 L616.0,658.0 L617.0,655.6 L617.2,653.1 L618.1,651.0 L617.9,648.7 L618.3,646.5 L619.0,644.4 L618.9,647.1 L619.9,649.5 L620.6,651.9 L622.9,648.5 L623.7,651.1 L623.6,653.9 L624.4,656.5 L625.7,654.6 L627.4,653.1 L629.7,651.9 L630.5,654.1 L631.4,656.3 L631.1,658.8 L631.9,661.0 L635.3,659.9 L637.6,656.5 L639.0,658.4 L641.0,659.4 L644.0,657.6 L644.5,655.4 L645.3,653.2 L644.6,650.7 L645.6,648.5 L645.4,646.2 L645.9,644.0 L646.7,641.8 L646.9,639.5 L646.4,637.2 L646.4,634.9 L646.9,632.6 L647.2,630.4 L647.9,627.7 L649.2,625.2 L649.4,622.4 L650.7,625.1 L651.2,628.1 L652.4,626.0 L653.0,623.7 L653.5,621.3 L655.3,624.7 L656.5,622.2 L657.2,619.5 L657.6,616.8 L658.3,619.1 L659.2,621.3 L660.9,624.0 L662.1,627.0 L662.7,624.6 L663.5,622.4 L664.4,620.2 L664.2,622.5 L665.3,624.7 L665.3,626.9 L664.7,629.3 L665.5,631.5 L665.9,633.7 L666.1,636.0 L665.6,638.3 L666.1,640.6 L666.0,642.9 L668.3,644.4 L669.9,642.8 L670.5,640.6 L671.6,638.4 L672.3,636.2 L671.9,633.7 L672.8,631.5 L673.9,633.6 L674.5,635.9 L674.6,638.3 L674.9,640.7 L675.8,642.9 L676.2,640.2 L676.5,637.5 L677.3,634.9 L679.1,636.5 L680.7,638.3 L682.3,635.6 L683.5,632.6 L684.3,630.4 L685.0,628.2 L685.3,625.8 L688.0,627.0 L688.7,624.7 L688.7,622.5 L688.2,620.1 L689.4,617.9 L688.9,615.6 L689.5,613.4 L689.4,611.1 L689.8,608.8 L691.0,606.7 L691.3,604.1 L692.6,602.0 L695.5,600.9 L695.4,598.6 L695.6,596.3 L695.7,594.0 L696.9,591.8 L696.7,589.5 L696.6,587.2 L697.1,585.0 L697.9,582.1 L698.9,579.3 L700.6,577.3 L701.2,574.8 L701.6,572.3 L701.7,569.7 L702.9,567.3 L703.2,564.8 L703.5,562.3 L704.4,560.1 L703.6,557.7 L704.4,555.4 L704.8,553.2 L707.0,550.9 L706.8,553.2 L706.9,555.5 L707.0,557.8 L708.3,559.9 L708.1,562.2 L708.5,564.5 L708.2,566.8 L708.0,564.3 L709.2,562.0 L708.9,559.6 L709.6,557.2 L709.1,554.7 L710.0,552.4 L709.7,549.9 L710.0,547.5 L712.7,549.8 L713.6,552.0 L713.5,554.4 L713.8,556.7 L715.0,558.9 L714.7,556.5 L715.6,554.3 L715.8,552.1 L715.5,549.7 L715.9,547.5 L715.9,545.2 L716.2,542.9 L716.5,540.7 L717.1,538.4 L717.2,536.2 L717.6,533.7 L717.2,531.3 L717.1,528.8 L717.7,526.4 L718.3,524.0 L717.8,521.5 L718.4,519.1 L720.6,522.5 L720.6,520.1 L720.7,517.6 L721.7,515.3 L721.6,512.8 L721.2,510.3 L721.5,507.9 L722.2,505.5 L722.4,503.0 L722.9,500.6 L723.3,498.1 L722.9,495.6 L723.3,493.2 L724.1,490.7 L724.5,488.5 L724.4,486.2 L724.5,483.9 L724.7,481.6 L725.8,479.5 L725.2,477.1 L725.7,474.9 L725.9,472.6 L725.9,470.3 L726.2,468.0 L727.0,465.8 L727.4,463.6 L726.8,461.2 L726.8,458.9 L727.5,456.7 L728.0,454.3 L727.5,451.8 L727.5,449.3 L728.9,447.0 L728.5,444.5 L729.2,442.1 L729.0,439.7 L729.3,441.9 L728.9,444.2 L729.6,446.5 L730.1,448.7 L730.4,451.0 L729.9,453.3 L729.9,455.6 L729.7,457.9 L730.9,460.1 L730.4,462.4 L730.9,464.6 L730.9,466.9 L731.0,464.5 L730.7,462.1 L731.0,459.7 L731.4,457.3 L732.0,455.0 L731.1,452.5 L731.7,450.1 L732.3,447.8 L732.0,445.3 L732.0,448.0 L733.5,450.4 L734.2,452.9 L734.3,455.6 L733.8,457.9 L733.9,460.1 L734.6,462.4 L735.3,464.6 L734.2,466.9 L735.0,469.2 L734.5,471.5 L734.9,473.7 L734.8,476.0 L735.7,478.2 L735.4,480.5 L738.1,482.8 L738.7,480.4 L738.2,477.9 L738.7,475.4 L739.5,473.0 L739.7,470.5 L739.5,468.0 L739.5,465.5 L740.0,463.1 L740.7,460.6 L741.3,458.2 L741.6,455.7 L742.2,453.3 L742.0,451.0 L742.4,448.7 L743.3,446.5 L743.8,444.3 L742.9,441.9 L743.9,439.7 L744.0,437.4 L744.5,435.0 L743.7,432.5 L744.9,430.1 L744.1,427.6 L744.8,425.2 L744.9,422.8 L744.9,420.4 L746.0,417.6 L746.8,414.7 L746.9,412.2 L747.4,409.7 L747.9,407.2 L748.1,404.7 L748.6,402.2 L749.2,400.1 L749.3,397.8 L749.6,395.6 L749.5,393.3 L750.6,391.3 L750.8,389.0 L751.0,391.3 L751.4,393.5 L750.9,395.8 L751.0,398.0 L751.6,400.2 L752.1,402.4 L751.8,404.7 L752.4,406.9 L752.5,409.1 L752.3,411.4 L752.8,413.6 L752.4,415.8 L753.0,418.5 L753.5,421.1 L754.0,423.8 L753.7,421.4 L754.8,419.3 L754.4,416.9 L755.5,414.7 L755.9,412.5 L755.8,410.2 L757.7,411.3 L757.8,409.0 L757.4,406.7 L758.2,404.5 L758.2,402.2 L759.1,400.0 L758.2,397.6 L759.3,395.4 L759.7,393.2 L759.2,390.9 L759.9,388.7 L760.3,386.6 L759.8,384.3 L761.1,382.2 L760.8,380.0 L761.1,382.2 L760.8,384.4 L761.2,386.6 L762.5,388.7 L762.0,391.0 L762.6,393.1 L764.1,390.5 L764.5,387.5 L765.3,389.8 L765.1,392.3 L764.8,394.8 L765.8,397.1 L765.1,399.7 L766.1,402.0 L766.0,404.5 L766.8,402.1 L766.2,399.6 L767.0,397.2 L767.9,394.8 L767.3,392.3 L767.7,389.8 L768.3,387.5 L769.8,385.8 L771.3,384.1 L772.3,386.6 L773.4,389.2 L773.5,392.0 L773.4,389.8 L773.7,387.6 L775.0,385.5 L774.9,383.3 L775.5,381.1 L774.8,378.8 L775.9,376.8 L775.8,374.5 L777.4,375.4 L778.1,377.6 L777.8,379.8 L777.9,382.1 L778.5,384.2 L778.1,386.5 L778.7,388.7 L779.0,390.9 L779.5,393.5 L779.7,396.3 L780.8,398.8 L781.5,401.0 L780.5,403.4 L781.2,405.6 L781.7,407.9 L781.4,410.2 L781.9,412.4 L781.9,410.0 L783.0,407.6 L782.7,405.1 L782.7,402.7 L783.4,400.3 L783.2,397.8 L783.5,395.4 L783.7,392.9 L785.0,390.6 L785.3,388.1 L786.3,390.4 L785.7,392.9 L786.8,395.2 L786.6,397.6 L787.2,399.9 L787.9,397.7 L787.6,395.4 L787.8,393.1 L787.5,390.8 L787.3,388.5 L788.1,386.3 L789.9,389.7 L790.7,392.1 L790.7,394.6 L790.3,397.1 L790.7,399.6 L790.8,402.0 L791.0,404.5 L790.8,406.8 L792.0,409.0 L792.2,411.3 L791.9,413.6 L793.0,415.8 L792.6,418.1 L793.3,420.4 L793.0,422.6 L793.4,424.9 L793.1,427.2 L793.4,429.4 L793.0,431.7 L793.1,434.0 L793.3,436.3 L793.8,438.7 L793.5,441.1 L793.8,443.6 L794.4,446.0 L793.5,448.5 L794.6,450.8 L794.4,453.3 L795.4,455.5 L796.1,457.7 L796.0,460.1 L796.7,462.4 L797.3,460.1 L797.3,457.9 L797.0,455.6 L797.0,453.3 L796.8,451.0 L797.7,448.8 L797.8,446.5 L797.8,444.2 L798.3,446.6 L798.1,449.1 L798.6,451.5 L798.2,454.0 L798.7,456.4 L799.5,458.8 L799.4,461.2 L800.2,459.0 L799.4,456.6 L800.2,454.4 L800.3,452.1 L800.4,449.8 L800.4,447.6 L801.2,445.3 L801.1,447.8 L802.3,450.1 L801.9,452.5 L801.6,454.9 L802.8,457.2 L803.0,459.6 L802.7,462.0 L803.0,464.4 L803.1,466.8 L803.5,469.2 L804.1,467.0 L803.5,464.6 L803.9,462.3 L804.2,460.1 L804.6,457.8 L804.3,455.6 L805.7,453.5 L805.9,451.3 L806.1,449.1 L805.4,446.8 L806.8,444.8 L806.9,442.6 L806.9,440.4 L807.3,442.8 L807.4,445.2 L808.0,447.6 L808.4,449.9 L809.0,452.1 L809.5,454.4 L809.6,456.7 L810.2,458.9 L809.9,461.2 L810.3,463.5 L810.0,465.8 L810.3,468.1 L810.3,470.4 L810.7,472.6 L811.5,474.8 L811.5,477.1 L812.3,474.9 L812.9,472.6 L813.7,470.3 L814.4,468.0 L814.4,465.6 L814.4,463.2 L815.2,460.9 L815.3,458.5 L815.9,461.8 L817.6,464.6 L819.4,468.0 L820.5,465.8 L821.6,468.2 L821.5,471.0 L823.4,473.3 L823.5,476.0 L824.3,478.4 L824.8,480.8 L824.7,483.4 L825.5,485.8 L826.3,483.6 L826.2,481.3 L825.8,479.1 L826.7,476.9 L826.2,474.6 L826.3,472.4 L827.3,470.2 L827.2,468.0 L827.4,465.8 L827.3,463.5 L827.7,461.3 L828.3,459.0 L827.8,456.7 L828.4,454.5 L828.4,452.2 L828.8,449.9 L828.5,447.6 L828.8,445.3 L829.5,443.1 L829.7,440.8 L829.7,438.5 L830.3,436.3 L831.0,438.7 L830.8,441.3 L831.8,443.7 L831.0,446.3 L831.9,448.8 L831.7,446.2 L831.8,443.8 L832.2,441.3 L833.5,439.0 L833.0,436.4 L833.5,434.0 L833.3,431.7 L833.5,429.4 L833.8,427.1 L834.9,424.9 L835.2,422.7 L835.3,420.4 L837.6,417.0 L837.7,419.7 L838.0,422.3 L838.7,424.9 L838.5,422.6 L839.6,420.4 L839.7,418.1 L840.6,415.9 L841.0,413.6 L841.0,411.3 L842.0,414.4 L843.9,417.0 L844.5,413.9 L846.2,411.3 L847.2,409.1 L847.8,406.9 L848.4,404.6 L848.5,402.2 L849.2,404.4 L849.3,406.7 L849.6,409.0 L850.0,411.2 L849.1,413.6 L849.4,415.9 L850.0,418.1 L850.4,420.4 L850.7,422.7 L851.6,424.9 L852.4,422.4 L852.5,419.7 L852.8,417.1 L853.9,414.7 L855.1,417.4 L855.3,420.4 L855.1,422.8 L856.0,425.2 L856.1,427.6 L856.2,430.0 L856.9,432.4 L856.8,434.8 L856.9,437.2 L856.9,439.7 L859.1,437.4 L859.6,435.0 L859.4,432.6 L859.5,430.1 L860.5,427.8 L860.1,425.3 L860.8,423.0 L860.7,420.5 L860.7,418.1 L860.5,415.7 L861.3,413.5 L861.7,411.3 L862.5,409.1 L862.5,406.8 L862.7,404.5 L863.5,402.3 L863.7,400.0 L863.6,397.6 L864.3,395.4 L865.9,393.3 L866.6,390.9 L866.4,388.5 L867.6,386.4 L867.0,384.0 L867.0,381.7 L867.6,379.5 L868.2,377.2 L869.1,375.2 L869.9,373.1 L869.3,370.6 L870.5,368.6 L870.8,371.0 L871.1,373.4 L871.0,375.9 L872.2,378.2 L872.1,380.6 L873.0,382.9 L873.9,385.2 L874.4,382.5 L875.8,380.0 L876.2,377.2 L878.4,378.4 L878.5,375.7 L879.7,373.3 L879.2,370.6 L879.5,368.0 L880.2,365.4 L880.5,367.9 L881.3,370.3 L881.8,372.7 L883.0,370.4 L883.8,372.9 L883.5,375.5 L884.6,377.8 L884.0,380.5 L884.8,382.9 L884.8,385.6 L885.0,388.3 L885.7,390.9 L887.0,388.7 L888.0,386.3 L888.5,388.8 L888.8,391.3 L889.2,393.8 L888.9,396.4 L889.8,398.8 L889.9,396.0 L891.5,393.6 L891.6,390.9 L892.4,393.1 L892.4,395.4 L892.5,397.6 L891.9,400.0 L892.6,402.2 L892.9,404.5 L892.5,406.8 L893.2,409.0 L894.3,411.2 L894.7,413.5 L895.4,415.8 L896.3,413.0 L897.0,410.2 L897.2,412.5 L897.6,414.8 L898.2,417.0 L898.9,419.2 L901.1,417.0 L901.4,414.4 L901.8,411.8 L902.0,409.2 L902.9,406.8 L903.3,409.2 L904.5,411.3 L904.7,414.0 L905.0,416.6 L905.7,419.2 L907.5,417.0 L908.4,419.5 L908.6,422.3 L909.1,424.9 L909.0,427.2 L909.6,429.5 L910.5,431.7 L910.4,434.0 L910.7,436.3 L912.1,434.2 L912.3,431.6 L913.6,429.5 L914.7,431.6 L915.4,433.9 L915.9,436.3 L915.8,438.7 L915.7,441.0 L916.8,443.4 L916.9,445.7 L916.9,448.1 L917.0,450.5 L916.9,452.9 L917.5,455.2 L917.4,457.6 L917.7,460.0 L917.5,462.4 L918.7,459.9 L919.0,457.1 L919.3,454.4 L920.0,451.9 L922.1,450.2 L922.7,447.6 L922.6,445.3 L923.3,443.1 L924.4,440.9 L924.6,438.6 L924.9,436.3 L925.0,434.0 L925.4,431.7 L925.6,429.4 L926.5,427.2 L929.5,426.7 L929.6,429.1 L930.5,431.4 L930.7,433.7 L930.7,436.1 L931.4,438.4 L931.1,440.8 L931.5,443.3 L931.3,445.8 L931.7,448.3 L932.2,450.8 L932.5,453.3 L935.2,451.0 L935.5,448.6 L935.4,446.3 L935.1,443.8 L935.8,441.5 L935.6,439.1 L936.2,436.7 L936.5,434.4 L936.0,431.9 L936.3,429.6 L936.3,427.2 L936.8,430.1 L937.9,432.9 L938.2,435.3 L938.6,437.7 L938.2,440.2 L938.2,442.6 L938.5,445.1 L938.8,447.5 L939.3,449.9 L939.9,447.4 L939.9,444.9 L940.1,442.4 L940.1,439.9 L940.4,437.4 L941.0,439.9 L940.9,442.4 L941.9,444.8 L941.8,447.4 L942.0,449.9 L942.9,447.4 L943.4,444.8 L943.9,442.3 L944.3,439.7 L945.1,436.7 L946.5,434.0 L946.9,431.7 L947.4,429.4 L948.0,427.2 L948.2,424.9 L948.8,422.6 L949.9,420.2 L950.6,417.7 L952.9,420.4 L952.7,422.7 L954.1,424.8 L953.9,427.2 L954.5,429.5 L954.9,432.4 L956.1,435.1 L956.8,437.7 L957.3,440.4 L957.9,443.1 L959.6,440.5 L960.1,437.4 L961.8,439.4 L962.4,441.9 L964.2,440.8 L964.6,443.1 L965.5,445.3 L965.1,447.7 L965.8,449.9 L967.1,447.8 L967.4,445.4 L968.1,443.1 L968.8,445.3 L968.5,447.6 L968.7,449.9 L968.7,452.2 L969.2,454.4 L969.3,456.7 L969.7,459.0 L969.4,461.3 L970.0,463.5 L970.3,465.8 L969.8,468.1 L970.9,470.3 L970.5,472.6 L971.0,474.8 L971.0,477.1 L971.0,479.4 L972.1,481.5 L971.2,483.8 L972.3,485.9 L972.9,488.0 L972.6,490.3 L972.6,487.5 L973.1,484.8 L972.9,482.1 L973.8,479.4 L974.4,481.6 L975.0,483.9 L975.2,486.3 L976.0,488.5 L977.9,485.1 L978.8,487.9 L979.4,490.7 L979.4,488.3 L979.6,485.8 L980.6,483.4 L981.1,481.0 L980.8,478.5 L981.0,476.0 L982.1,478.5 L982.2,481.4 L983.3,483.9 L983.8,481.1 L984.7,478.3 L985.6,480.8 L986.2,483.5 L986.3,486.2 L986.0,488.5 L986.1,490.8 L986.5,493.0 L986.9,495.3 L986.9,497.6 L987.5,499.8 L986.6,502.1 L987.4,504.4 L987.7,506.6 L987.4,508.9 L987.3,511.2 L987.4,513.5 L988.0,515.7 L988.3,518.0 L988.1,520.3 L988.8,522.5 L988.0,524.8 L988.5,527.1 L988.9,529.3 L988.5,531.7 L989.5,533.9 L989.6,536.1 L989.7,538.4 L990.2,540.6 L990.1,542.8 L990.6,545.0 L991.1,547.1 L990.3,549.4 L990.8,551.6 L990.9,549.3 L991.2,547.1 L991.7,545.0 L992.3,542.8 L992.6,540.6 L993.1,538.4 L993.8,536.2 L994.2,533.9 L994.5,536.2 L995.3,538.4 L995.0,540.8 L996.0,543.0 L996.1,545.3 L997.6,547.4 L997.6,549.8 L998.3,547.6 L998.7,545.3 L998.8,543.0 L998.3,540.6 L999.5,538.5 L999.5,536.2 L999.0,533.8 L999.9,531.6 L1001.0,534.1 L1000.4,537.0 L1001.5,539.6 L1001.6,542.1 L1002.5,544.6 L1003.0,547.2 L1002.8,549.8 L1002.6,547.4 L1003.1,545.2 L1004.0,543.0 L1003.8,540.7 L1003.8,538.4 L1005.1,536.2 L1005.2,533.9 L1005.1,531.6 L1005.1,529.0 L1006.4,526.6 L1006.4,524.0 L1006.7,521.4 L1006.7,523.7 L1007.2,526.0 L1007.3,528.3 L1007.8,530.5 L1008.1,532.8 L1009.0,535.0 L1008.8,532.7 L1009.7,530.5 L1009.7,528.2 L1010.2,526.0 L1010.0,523.7 L1010.8,521.4 L1010.5,519.1 L1012.0,522.0 L1013.5,524.8 L1014.0,521.9 L1015.1,519.1 L1016.3,516.7 L1018.0,514.6 L1019.6,517.2 L1020.3,520.3 L1020.6,522.5 L1021.5,524.7 L1021.3,527.1 L1022.0,529.3 L1021.9,531.6 L1022.4,533.9 L1022.8,536.2 L1023.3,538.4 L1024.1,535.6 L1024.8,532.7 L1024.7,535.1 L1026.1,537.2 L1025.4,539.6 L1026.2,541.8 L1026.4,544.1 L1028.7,543.0 L1029.1,545.5 L1029.4,548.1 L1029.6,550.7 L1030.5,553.2 L1030.5,550.8 L1030.8,548.4 L1031.7,546.1 L1030.7,543.6 L1031.6,541.3 L1031.8,538.9 L1031.2,536.4 L1032.1,534.1 L1032.4,531.7 L1032.3,529.3 L1032.1,531.7 L1033.2,533.9 L1032.7,536.2 L1033.6,538.4 L1033.9,540.7 L1034.7,543.0 L1035.0,545.4 L1036.2,547.5 L1037.5,549.6 L1037.4,552.1 L1038.5,554.3 L1039.7,552.1 L1040.7,549.8 L1043.0,552.0 L1043.2,549.7 L1044.3,547.6 L1044.0,545.2 L1044.6,543.0 L1045.2,545.6 L1045.8,548.3 L1046.4,550.9 L1048.7,549.8 L1050.2,550.0 L1052.5,551.2 L1053.3,549.0 L1053.0,546.6 L1053.8,544.4 L1054.2,542.1 L1054.8,539.8 L1057.0,541.0 L1058.2,538.7 L1059.3,536.4 L1060.9,539.8 L1060.5,542.1 L1061.3,544.4 L1060.7,546.7 L1061.3,548.9 L1061.3,551.2 L1061.6,553.4 L1061.4,555.7 L1060.9,558.0 L1061.6,560.3 L1061.5,562.5 L1061.4,564.8 L1062.0,567.1 L1062.1,569.3 L1062.3,571.6 L1062.0,573.9 L1062.0,576.2 L1062.2,578.4 L1063.4,575.9 L1063.2,573.0 L1064.5,570.5 L1066.8,571.6 L1067.0,573.9 L1067.4,576.3 L1068.4,578.4 L1069.2,576.2 L1069.3,573.7 L1070.6,571.6 L1071.5,569.2 L1072.9,567.1 L1075.9,568.2 L1078.1,564.8 L1079.7,562.5 L1080.9,565.1 L1081.2,567.7 L1081.3,570.5 L1083.1,572.7 L1085.4,570.5 L1087.7,571.6 L1091.1,569.3 L1092.4,567.2 L1092.7,564.8 L1093.3,562.5 L1093.7,560.3 L1094.1,558.0 L1094.4,555.8 L1094.2,553.5 L1094.4,551.2 L1094.5,548.9 L1094.9,546.7 L1095.2,544.4 L1095.3,542.1 L1095.6,539.9 L1095.6,537.6 L1095.7,535.2 L1096.7,533.1 L1096.9,530.7 L1097.8,528.5 L1097.9,526.2 L1099.2,523.6 L1101.3,521.7 L1103.6,519.4 L1105.8,522.8 L1106.8,525.0 L1107.6,527.2 L1107.2,529.7 L1108.1,531.9 L1109.2,529.4 L1109.4,526.8 L1109.6,524.2 L1110.4,521.7 L1111.5,519.1 L1112.2,516.5 L1112.6,513.7 L1113.7,516.6 L1114.9,519.4 L1117.2,520.5 L1118.2,522.7 L1118.9,525.0 L1119.5,527.3 L1119.9,529.6 L1120.3,531.9 L1120.5,534.1 L1120.6,536.5 L1120.5,538.8 L1122.0,540.9 L1121.7,543.2 L1122.0,540.8 L1121.5,538.4 L1121.8,536.0 L1122.9,533.7 L1122.8,531.3 L1123.5,528.9 L1123.1,526.5 L1122.7,524.0 L1123.5,521.7 L1123.6,519.4 L1124.1,517.1 L1124.8,514.9 L1125.1,512.7 L1124.6,510.3 L1124.8,508.0 L1125.1,505.8 L1125.1,503.4 L1126.2,501.3 L1126.1,498.9 L1126.5,496.6 L1127.4,494.4 L1129.4,495.7 L1130.4,497.8 L1131.2,495.2 L1133.1,493.3 L1135.8,495.6 L1136.5,493.0 L1136.2,490.4 L1137.8,488.0 L1137.6,485.3 L1139.9,482.6 L1142.2,484.2 L1143.0,486.4 L1142.3,488.8 L1143.5,491.0 L1144.0,493.2 L1143.4,495.6 L1144.0,497.8 L1144.4,495.1 L1145.8,492.6 L1146.2,489.9 L1148.5,487.6 L1150.8,488.8 L1151.7,491.3 L1152.4,493.9 L1152.4,496.7 L1153.2,499.1 L1154.6,501.2 L1158.0,499.0 L1160.3,502.4 L1161.2,500.2 L1162.0,498.0 L1162.1,495.6 L1164.4,499.0 L1164.6,501.7 L1166.0,504.2 L1166.0,506.9 L1168.3,503.5 L1168.6,505.8 L1169.1,508.1 L1169.9,510.3 L1170.3,508.0 L1171.3,505.9 L1170.9,503.4 L1171.7,501.2 L1172.6,499.0 L1172.5,496.7 L1171.9,494.3 L1172.2,492.1 L1173.3,489.9 L1173.8,487.7 L1173.1,485.3 L1173.9,483.1 L1176.2,481.9 L1178.9,480.8 L1181.2,483.1 L1182.5,480.7 L1184.2,478.5 L1185.0,481.5 L1186.4,484.2 L1188.7,485.3 L1191.0,488.8 L1194.4,487.6 L1197.8,486.5 L1200.7,488.8 L1201.3,491.2 L1200.5,493.6 L1201.1,496.0 L1201.8,498.5 L1201.5,500.9 L1201.4,503.4 L1201.6,505.8 L1205.7,505.8 L1206.1,503.5 L1206.9,501.3 L1206.6,498.9 L1207.5,496.7 L1207.7,499.1 L1208.8,501.2 L1209.1,503.6 L1209.8,505.8 L1212.1,506.9 L1214.3,510.3 L1215.3,508.1 L1215.8,505.7 L1216.6,503.5 L1218.9,500.1 L1220.2,502.3 L1221.2,504.6 L1222.4,502.5 L1223.5,500.3 L1223.9,497.8 L1226.2,495.6 L1228.4,496.7 L1229.0,499.1 L1230.2,501.2 L1231.1,499.0 L1231.5,496.6 L1232.5,494.4 L1232.2,492.1 L1233.7,490.0 L1233.6,487.6 L1234.0,485.4 L1233.6,483.1 L1234.1,480.8 L1234.5,478.5 L1235.2,476.3 L1235.2,474.0 L1235.1,471.7 L1235.0,469.4 L1235.4,467.2 L1235.7,464.9 L1237.5,462.6 L1240.2,459.2 L1242.5,461.5 L1243.6,459.0 L1243.6,456.2 L1244.3,453.6 L1246.6,450.2 L1247.0,452.9 L1247.7,455.5 L1248.4,458.1 L1249.6,456.0 L1250.3,453.7 L1250.7,451.3 L1253.4,450.2 L1253.5,447.8 L1253.5,445.5 L1254.2,443.3 L1254.7,441.1 L1255.2,438.8 L1255.7,436.3 L1256.4,433.8 L1256.9,431.2 L1256.8,428.6 L1258.4,427.5 L1259.3,429.9 L1258.6,432.6 L1259.0,435.2 L1259.8,437.7 L1262.0,435.4 L1263.6,432.7 L1264.3,429.7 L1267.0,432.0 L1269.3,434.3 L1269.8,432.0 L1269.9,429.7 L1271.1,427.5 L1271.1,425.2 L1272.6,422.5 L1273.4,419.5 L1275.0,421.8 L1274.9,424.1 L1274.9,426.4 L1275.8,428.6 L1276.4,430.8 L1276.1,433.1 L1278.4,436.5 L1279.1,439.2 L1279.5,441.9 L1280.6,444.5 L1280.9,441.7 L1282.2,439.3 L1282.5,436.5 L1283.8,434.5 L1284.0,432.0 L1286.3,432.0 L1288.6,432.0 L1288.5,429.5 L1289.2,427.1 L1289.6,424.6 L1289.6,422.2 L1289.5,419.7 L1290.2,417.2 L1290.2,414.9 L1291.2,412.8 L1291.6,410.5 L1291.6,408.2 L1292.0,405.9 L1293.8,402.5 L1295.4,404.5 L1296.1,407.0 L1297.3,404.3 L1297.7,401.4 L1298.2,399.1 L1297.8,396.8 L1298.4,394.6 L1299.1,392.3 L1298.8,390.0 L1299.5,387.8 L1299.3,385.6 L1299.5,383.3 L1299.9,381.1 L1299.6,378.9 L1300.2,376.7 L1300.1,374.4 L1300.4,372.1 L1301.4,369.9 L1301.3,367.6 L1301.8,365.4 L1302.0,363.1 L1304.3,359.7 L1305.1,356.8 L1306.1,354.0 L1306.4,356.3 L1307.2,358.5 L1307.7,360.7 L1306.8,363.2 L1307.7,365.3 L1308.2,367.6 L1308.9,369.8 L1308.5,372.2 L1308.6,374.5 L1309.3,376.7 L1309.6,374.3 L1310.9,372.2 L1311.6,369.9 L1311.8,367.3 L1312.5,364.8 L1312.3,362.1 L1313.4,359.7 L1315.7,358.5 L1317.5,360.8 L1317.7,358.3 L1319.1,356.3 L1318.8,358.6 L1319.4,360.9 L1320.3,363.1 L1320.7,365.3 L1321.3,367.6 L1322.5,369.8 L1322.9,372.2 L1323.0,374.5 L1323.9,376.7 L1324.3,379.0 L1325.2,376.8 L1325.3,374.5 L1325.7,372.2 L1326.2,370.0 L1325.9,367.6 L1327.3,370.3 L1328.1,373.3 L1329.3,375.4 L1329.6,377.7 L1329.7,380.1 L1330.6,382.3 L1331.2,384.5 L1331.1,386.9 L1330.8,384.3 L1331.8,381.9 L1332.5,379.5 L1332.3,376.9 L1332.7,374.4 L1333.3,377.5 L1335.0,380.1 L1336.6,378.1 L1337.2,375.6 L1337.0,373.2 L1337.9,371.0 L1337.9,368.7 L1338.4,366.5 L1338.3,364.1 L1339.9,362.1 L1339.4,359.6 L1340.2,357.4 L1340.9,360.3 L1341.8,363.1 L1344.0,360.8 L1346.3,361.9 L1347.3,359.7 L1347.9,357.4 L1349.7,360.8 L1350.3,363.3 L1352.0,365.3 L1354.3,368.8 L1355.2,371.7 L1356.5,374.4 L1357.0,376.7 L1357.3,379.0 L1357.7,381.2 L1358.4,378.8 L1359.9,376.7 L1359.9,379.1 L1360.4,381.4 L1361.5,383.5 L1362.4,385.7 L1363.2,387.9 L1363.5,390.2 L1363.8,392.6 L1364.2,390.3 L1365.4,388.2 L1366.0,385.9 L1366.1,383.5 L1366.9,381.3 L1366.2,378.9 L1367.5,376.8 L1367.8,374.5 L1367.9,372.2 L1368.8,369.6 L1370.0,367.0 L1370.1,364.2 L1372.4,367.6 L1372.8,365.1 L1374.2,363.1 L1375.2,365.6 L1375.0,368.4 L1375.8,371.0 L1375.6,373.6 L1376.2,376.0 L1377.0,378.5 L1377.0,381.0 L1377.4,383.5 L1377.3,386.0 L1378.4,388.4 L1378.3,390.9 L1378.6,393.3 L1379.0,395.8 L1378.8,398.3 L1379.0,396.0 L1378.8,393.7 L1379.1,391.4 L1379.2,389.1 L1380.1,386.9 L1379.5,384.6 L1380.4,382.4 L1382.6,381.2 L1383.5,383.6 L1384.9,385.8 L1384.9,383.4 L1385.1,381.1 L1386.6,379.1 L1386.5,376.7 L1387.9,373.3 L1388.6,375.5 L1388.1,377.9 L1388.6,380.2 L1389.4,382.4 L1391.7,385.8 L1391.7,388.4 L1393.1,390.7 L1393.1,393.3 L1394.0,395.7 L1394.0,398.3 L1395.3,395.8 L1395.9,393.1 L1396.3,390.3 L1396.8,388.1 L1397.0,385.8 L1397.2,383.5 L1397.8,381.2 L1399.7,378.6 L1400.8,375.6 L1401.9,373.3 L1403.1,371.0 L1405.3,368.8 L1405.5,371.3 L1406.4,373.7 L1406.6,376.2 L1407.2,378.7 L1406.9,381.2 L1408.7,379.0 L1410.6,382.4 L1411.3,379.9 L1411.5,377.4 L1411.5,374.8 L1412.8,372.5 L1412.8,369.9 L1413.3,367.5 L1414.2,365.3 L1415.1,363.1 L1417.4,361.9 L1418.6,364.1 L1419.0,366.5 L1419.0,364.2 L1420.0,362.0 L1419.7,359.6 L1419.8,357.3 L1420.5,355.1 L1421.2,357.8 L1422.0,360.4 L1422.4,363.1 L1423.2,360.9 L1422.5,358.5 L1423.9,356.3 L1423.0,353.9 L1424.4,351.8 L1424.2,349.5 L1424.7,347.2 L1424.4,344.9 L1425.1,342.6 L1425.2,340.3 L1425.8,338.1 L1425.7,335.8 L1425.9,333.5 L1426.4,331.3 L1427.5,329.1 L1427.7,326.8 L1427.4,324.5 L1429.2,321.1 L1430.6,318.4 L1431.0,315.4 L1431.3,312.4 L1432.6,309.7 L1433.2,312.0 L1432.9,314.4 L1434.3,316.4 L1434.2,318.8 L1435.1,316.6 L1435.1,314.2 L1436.0,312.0 L1438.3,310.9 L1440.0,308.3 L1440.5,305.2 L1442.8,307.5 L1442.6,305.1 L1444.1,303.0 L1444.0,300.6 L1444.6,298.4 L1445.5,300.9 L1446.0,303.4 L1445.4,306.1 L1446.2,308.6 L1448.5,312.0 L1450.7,314.3 L1452.3,317.7 L1452.7,315.2 L1452.6,312.6 L1453.3,310.2 L1454.3,307.8 L1454.1,305.2 L1455.0,307.7 L1455.0,310.3 L1456.0,312.8 L1456.0,315.4 L1456.3,312.6 L1457.8,310.2 L1458.2,307.5 L1459.1,305.3 L1459.1,302.8 L1460.0,300.6 L1461.9,299.0 L1464.2,302.0 L1466.5,300.9 L1467.8,303.4 L1468.5,306.0 L1468.8,308.8 L1471.0,312.2 L1473.3,313.3 L1475.6,311.1 L1477.8,311.8 L1478.2,314.2 L1478.9,316.6 L1479.4,319.0 L1479.9,321.3 L1480.3,323.5 L1480.0,325.8 L1480.1,328.1 L1480.2,330.4 L1480.8,332.6 L1481.2,330.2 L1480.9,327.7 L1481.0,325.2 L1482.1,322.8 L1482.0,320.3 L1482.4,317.9 L1482.6,320.6 L1484.0,323.1 L1484.0,325.8 L1483.8,328.3 L1484.7,330.7 L1484.3,333.2 L1484.5,335.6 L1485.3,338.0 L1486.1,340.4 L1485.8,342.9 L1486.9,340.4 L1486.9,337.7 L1488.0,335.3 L1488.0,332.6 L1490.3,333.8 L1490.8,331.4 L1491.4,329.1 L1492.6,327.0 L1494.9,329.2 L1495.4,332.2 L1496.7,334.9 L1498.9,336.0 L1499.4,338.3 L1500.0,340.5 L1500.1,342.8 L1500.1,345.1 L1500.5,347.4 L1500.2,344.9 L1501.1,342.5 L1501.3,340.0 L1501.6,337.6 L1501.4,335.1 L1502.1,332.6 L1505.1,332.6 L1506.5,330.5 L1507.3,328.1 L1508.0,325.9 L1508.3,323.6 L1507.8,321.3 L1508.5,319.1 L1508.5,316.8 L1510.7,315.6 L1513.5,313.3 L1513.7,311.1 L1514.5,308.9 L1514.0,306.4 L1515.4,304.3 L1515.3,302.0 L1517.6,300.9 L1519.8,302.0 L1520.9,299.9 L1520.9,297.5 L1521.5,295.2 L1522.0,292.9 L1522.6,290.6 L1523.6,293.5 L1524.8,296.3 L1526.5,298.3 L1527.1,300.9 L1527.7,303.4 L1529.4,305.4 L1529.5,303.1 L1529.9,300.8 L1530.2,298.5 L1530.9,296.3 L1531.6,294.1 L1532.0,296.8 L1533.7,299.2 L1533.9,302.0 L1536.2,300.9 L1537.6,303.5 L1538.0,306.5 L1538.7,304.3 L1538.5,301.9 L1538.7,299.6 L1539.8,297.5 L1542.1,296.3 L1544.8,294.1 L1545.4,291.8 L1545.8,289.5 L1546.2,287.2 L1546.9,285.0 L1547.1,282.7 L1549.3,280.9 L1551.6,282.7 L1554.3,280.9 L1556.6,282.7 L1557.7,284.8 L1557.4,287.4 L1558.4,289.5 L1560.7,286.1 L1561.6,283.9 L1561.5,281.4 L1562.3,279.2 L1563.4,277.0 L1564.0,279.3 L1564.6,281.6 L1565.2,283.8 L1567.5,285.0 L1568.5,287.2 L1569.5,289.4 L1569.8,291.8 L1571.2,294.0 L1572.5,296.3 L1574.8,292.9 L1577.0,291.8 L1577.2,289.4 L1578.4,287.3 L1578.9,285.0 L1581.6,283.8 L1582.0,286.3 L1583.4,288.4 L1584.6,290.5 L1584.8,292.9 L1585.7,295.2 L1586.3,292.7 L1586.0,290.1 L1587.2,287.8 L1587.7,285.3 L1587.5,282.7 L1588.1,279.8 L1589.1,277.0 L1591.3,274.8 L1592.0,277.4 L1592.0,280.1 L1592.9,282.7 L1593.5,285.4 L1594.3,288.0 L1594.7,290.6 L1594.6,293.4 L1595.1,296.0 L1595.9,298.6 L1598.1,296.3 L1598.7,293.6 L1599.3,290.9 L1600.4,288.4 L1602.0,291.8 L1603.8,294.1 L1604.4,296.3 L1604.6,298.6 L1604.3,301.0 L1604.9,303.2 L1605.6,305.4 L1607.2,302.0 L1607.9,302.0" fill="none" stroke="#000" stroke-width="3.35" stroke-linejoin="round" stroke-linecap="round"/>
<g opacity="0.5">
<g stroke="#fa9152" stroke-width="3" fill="none" stroke-dasharray="8 4.6">
<line x1="725.5" y1="554" x2="875.5" y2="251"/>
<line x1="1063" y1="243.8" x2="1529" y2="451.8"/>
</g>
<polygon points="882.3,242 872,246 883,252.5" fill="#fa9152"/>
<polygon points="1532.6,448 1538,456.4 1527.4,458.6" fill="#fa9152"/>
</g>
</svg>
<div class="abs title">BTC: Lightning Network Number of Channels</div>
<div class="dot" style="left:53.8px;background:#f7931a"></div>
<div class="abs leg" style="left:68px;letter-spacing:-0.02px" id="leg1">BTC: Lightning Network Number of Channels</div>
<div class="dot" style="left:370.8px;background:#000"></div>
<div class="abs leg" style="left:384.5px;letter-spacing:-0.47px" id="leg2">BTC: Price [USD]</div>
<div class="abs yl" style="top:211.0px">90K</div>
<div class="abs yl" style="top:278.2px">80K</div>
<div class="abs yl" style="top:345.4px">70K</div>
<div class="abs yl" style="top:412.7px">60K</div>
<div class="abs yl" style="top:479.9px">50K</div>
<div class="abs yl" style="top:547.1px">40K</div>
<div class="abs yl" style="top:614.3px">30K</div>
<div class="abs yl" style="top:681.6px">20K</div>
<div class="abs yl" style="top:748.8px">10K</div>
<div class="abs yl" style="top:816.0px">0</div>
<div class="abs yr" style="top:197.0px">$200k</div>
<div class="abs yr" style="top:299.0px">$100k</div>
<div class="abs yr" style="top:351.5px">$70k</div>
<div class="abs yr" style="top:401.0px">$50k</div>
<div class="abs yr" style="top:476.0px">$30k</div>
<div class="abs yr" style="top:536.0px">$20k</div>
<div class="abs yr" style="top:638.0px">$10k</div>
<div class="abs yr" style="top:690.0px">$7k</div>
<div class="abs yr" style="top:740.0px">$5k</div>
<div class="abs yr" style="top:815.0px">$3k</div>
<div class="abs xl" style="left:220px">Jul '18</div>
<div class="abs xl" style="left:311px">Jan '19</div>
<div class="abs xl" style="left:402px">Jul '19</div>
<div class="abs xl" style="left:493px">Jan '20</div>
<div class="abs xl" style="left:584px">Jul '20</div>
<div class="abs xl" style="left:675px">Jan '21</div>
<div class="abs xl" style="left:766px">Jul '21</div>
<div class="abs xl" style="left:857px">Jan '22</div>
<div class="abs xl" style="left:947px">Jul '22</div>
<div class="abs xl" style="left:1039px">Jan '23</div>
<div class="abs xl" style="left:1129px">Jul '23</div>
<div class="abs xl" style="left:1220px">Jan '24</div>
<div class="abs xl" style="left:1311px">Jul '24</div>
<div class="abs xl" style="left:1402px">Jan '25</div>
<div class="abs xl" style="left:1493px">Jul '25</div>
<div class="abs ann" style="left:1316px;top:526px">2021 : 37 208 Canaux</div>
<div class="abs ann" style="left:1319px;top:559px">2025 : 51 349 Canaux</div>
<div class="abs ann" style="left:1319px;top:592px;color:#17bd5f;letter-spacing:-0.4px">+ 38%</div>
<div class="abs foot">© 2025 Glassnode. All Rights Reserved.</div>
<div class="abs logo">glassnode</div>
</body></html>
